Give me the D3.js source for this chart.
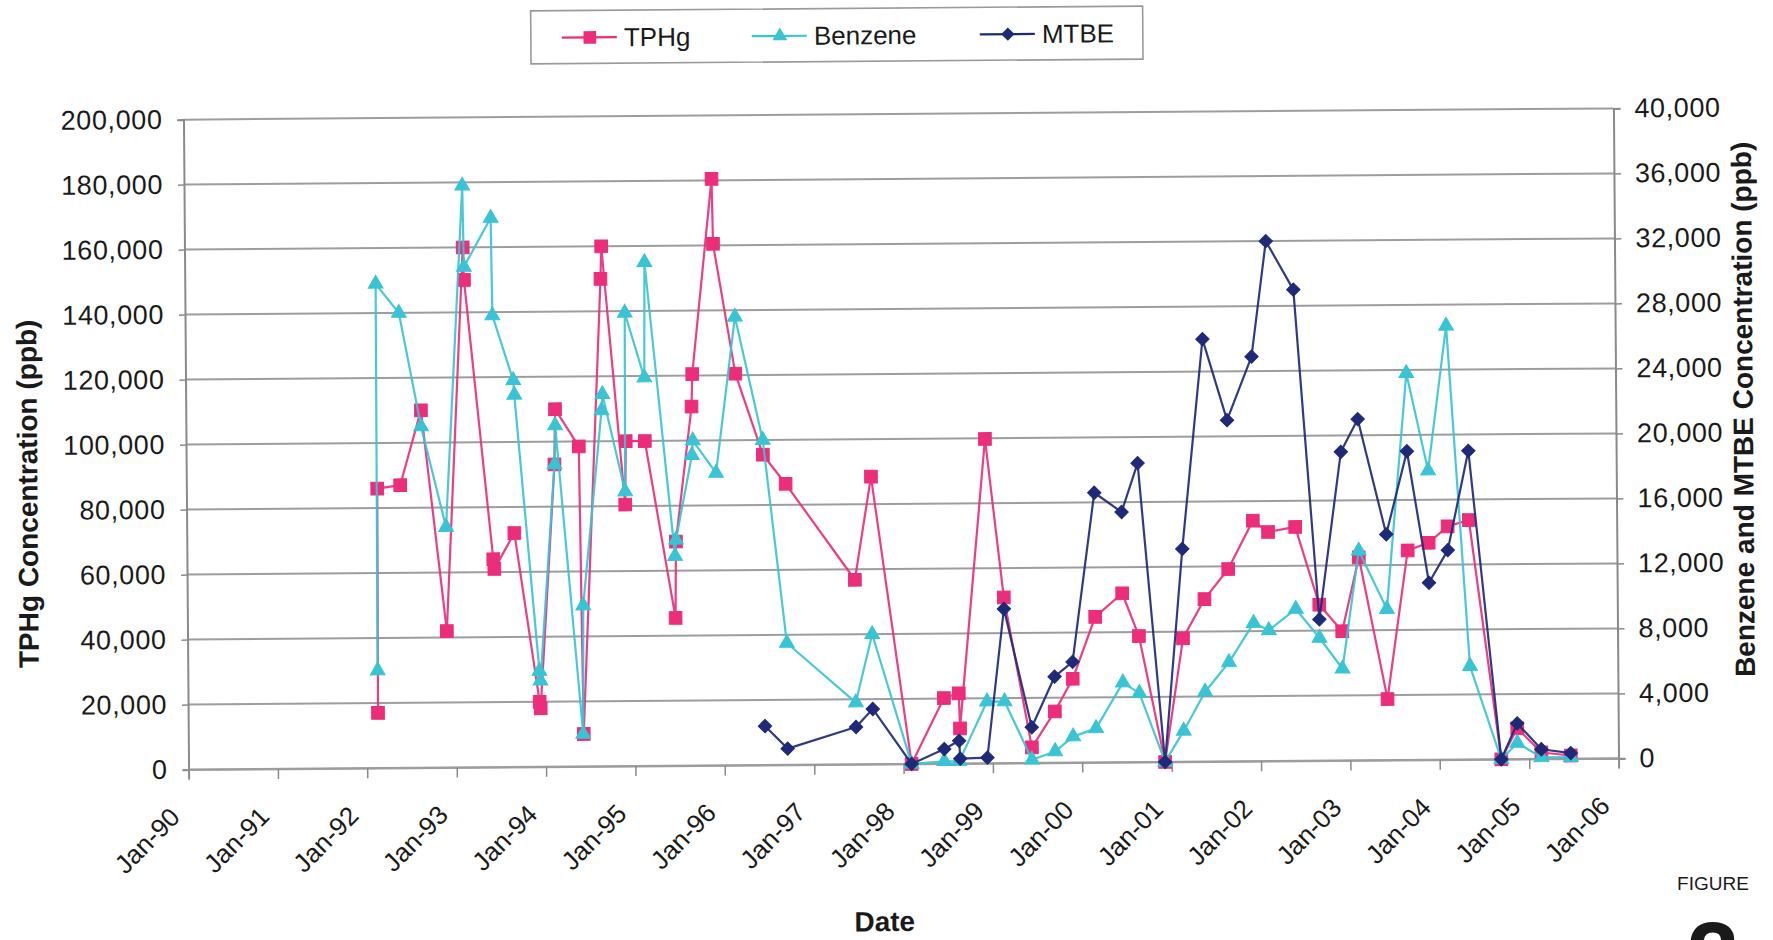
<!DOCTYPE html>
<html><head><meta charset="utf-8">
<script src="https://cdn.jsdelivr.net/npm/d3@7"></script>
<style>
html,body{margin:0;padding:0;background:#fff;}
svg{display:block;}
text{font-family:"Liberation Sans",Arial,Helvetica,sans-serif;fill:#1a1a1a;}
</style></head><body>
<svg id="chart" width="1773" height="940"></svg>
<script>
// ---------- data ----------
const xTickLabels = ["Jan-90","Jan-91","Jan-92","Jan-93","Jan-94","Jan-95","Jan-96","Jan-97","Jan-98","Jan-99","Jan-00","Jan-01","Jan-02","Jan-03","Jan-04","Jan-05","Jan-06"];
const leftTickValues = [0,20000,40000,60000,80000,100000,120000,140000,160000,180000,200000];
const rightTickValues = [0,4000,8000,12000,16000,20000,24000,28000,32000,36000,40000];
const seriesNames = ["TPHg","Benzene","MTBE"];

const tphgDates = ["1992-02-16","1992-02-20","1992-05-24","1992-08-19","1992-11-26","1993-02-11","1993-02-15","1993-06-06","1993-06-10","1993-09-01","1993-12-08","1993-12-12","1994-02-14","1994-02-18","1994-05-25","1994-06-05","1994-08-27","1994-08-31","1994-11-29","1994-12-03","1995-02-19","1995-06-19","1995-06-23","1995-08-30","1995-09-03","1995-11-27","1995-12-01","1996-02-26","1996-06-15","1996-09-15","1997-06-22","1997-08-30","1998-02-03","1998-06-17","1998-08-17","1998-08-21","1998-12-10","1999-02-20","1999-06-10","1999-09-13","1999-11-26","2000-02-28","2000-06-18","2000-08-24","2000-12-05","2001-02-20","2001-05-20","2001-08-26","2001-12-06","2002-02-06","2002-05-28","2002-09-01","2002-12-03","2003-02-11","2003-06-04","2003-08-30","2003-11-24","2004-02-10","2004-05-07","2004-09-09","2004-11-14","2005-02-20","2005-06-20"];
const tphgValues = [17000,86000,87000,110000,42000,160000,150000,64000,61000,72000,20000,18000,93000,110000,98500,10000,150000,160000,80500,100000,100000,45500,69000,110500,120500,180500,160500,120500,95500,86500,56800,88500,0,20200,21600,10800,99800,51000,4800,15800,25800,44800,52000,38800,0,38000,50000,59200,74000,70500,72000,48000,39800,62500,18800,64500,66800,71800,73700,0,9500,2000,1000];

const benzeneDates = ["1992-02-16","1992-02-20","1992-05-24","1992-08-19","1992-11-26","1993-02-11","1993-02-15","1993-06-06","1993-06-10","1993-09-01","1993-09-05","1993-12-08","1993-12-12","1994-02-14","1994-02-18","1994-06-03","1994-06-07","1994-08-27","1994-08-31","1994-11-29","1994-12-03","1995-02-19","1995-02-23","1995-06-19","1995-06-23","1995-08-30","1995-09-03","1995-12-06","1996-02-26","1996-06-15","1996-09-15","1997-06-22","1997-08-30","1998-02-03","1998-06-17","1998-08-17","1998-12-10","1999-02-20","1999-06-10","1999-09-13","1999-11-26","2000-02-28","2000-06-18","2000-08-24","2000-12-05","2001-02-20","2001-05-20","2001-08-26","2001-12-06","2002-02-06","2002-05-28","2002-09-01","2002-12-03","2003-02-11","2003-06-04","2003-08-30","2003-11-24","2004-02-10","2004-05-07","2004-09-09","2004-11-14","2005-02-20","2005-06-20"];
const benzeneValues = [6000,29800,28000,21000,14800,35800,30800,33800,27800,23800,22900,5900,5300,18600,21000,2000,9900,21900,22900,16900,27900,23900,31000,12900,13900,19100,20000,18000,27600,20000,7500,3800,8000,0,150,150,3800,3800,200,700,1600,2100,4900,4250,0,1900,4300,6100,8500,8050,9350,7550,5650,12900,9300,23800,17800,26700,5750,0,1000,100,100];

const mtbeDates = ["1996-06-15","1996-09-15","1997-06-22","1997-08-30","1998-02-03","1998-06-17","1998-08-17","1998-08-21","1998-12-10","1999-02-20","1999-06-10","1999-09-13","1999-11-26","2000-02-28","2000-06-18","2000-08-24","2000-12-05","2001-02-20","2001-05-20","2001-08-26","2001-12-06","2002-02-06","2002-05-28","2002-09-01","2002-12-03","2003-02-11","2003-06-04","2003-08-30","2003-11-24","2004-02-10","2004-05-07","2004-09-09","2004-11-14","2005-02-20","2005-06-20"];
const mtbeValues = [2400,1000,2300,3400,0,900,1400,300,350,9500,2200,5300,6200,16600,15400,18400,0,13100,26000,21000,24900,32000,29000,8700,19000,21000,13900,19000,10900,12900,19000,0,2200,600,350];

// ---------- layout ----------
const W = 1773, H = 940;
const plot = {left:186, right:1616, top:114, bottom:764};
const colors = {tphg:"#EC2D7A", benzene:"#38C4D4", mtbe:"#1E2A78", grid:"#9d9d9d", axis:"#8a8a8a"};
const parse = d3.timeParse("%Y-%m-%d");

const svg = d3.select("#chart");
svg.append("rect").attr("width",W).attr("height",H).attr("fill","#fff");

const g = svg.append("g").attr("transform","rotate(-0.45,901,439)");

const x = d3.scaleTime().domain([new Date(1990,0,1), new Date(2006,0,1)]).range([plot.left, plot.right]);
const yL = d3.scaleLinear().domain([0,200000]).range([plot.bottom, plot.top]);
const yR = d3.scaleLinear().domain([0,40000]).range([plot.bottom, plot.top]);
const tickDates = xTickLabels.map((l,i)=>new Date(1990+i,0,1));

// gridlines
g.append("g").selectAll("line").data(leftTickValues).join("line")
  .attr("x1",plot.left).attr("x2",plot.right)
  .attr("y1",d=>yL(d)).attr("y2",d=>yL(d))
  .attr("stroke",colors.grid).attr("stroke-width",2);

// axes
const fmt = d3.format(",");
const axL = g.append("g").attr("transform",`translate(${plot.left},0)`)
  .call(d3.axisLeft(yL).tickValues(leftTickValues).tickFormat(fmt).tickSize(6).tickPadding(15));
const axR = g.append("g").attr("transform",`translate(${plot.right},0)`)
  .call(d3.axisRight(yR).tickValues(rightTickValues).tickFormat(fmt).tickSize(7).tickPadding(14));
const axB = g.append("g").attr("transform",`translate(0,${plot.bottom})`)
  .call(d3.axisBottom(x).tickValues(tickDates).tickFormat((d,i)=>xTickLabels[i]).tickSize(10));

[axL,axR,axB].forEach(a=>{
  a.select(".domain").attr("stroke",colors.axis).attr("stroke-width",2);
  a.selectAll(".tick line").attr("stroke",colors.axis).attr("stroke-width",1.5);
  a.selectAll("text").attr("font-size",27).attr("fill","#1a1a1a")
    .style("font-family",'"Liberation Sans",Arial,sans-serif').style("letter-spacing","0.6px");
});
axB.select(".domain").attr("stroke",colors.grid);
axB.selectAll("text").attr("font-size",26).attr("y",0).attr("x",0).attr("dy","0")
  .attr("text-anchor","end").attr("transform","translate(-8,49) rotate(-45)").style("letter-spacing","0px");

// series
function makeSeries(dates, values, yScale){
  return dates.map((d,i)=>({date:parse(d), value:values[i], y:yScale}));
}
const tphg = makeSeries(tphgDates,tphgValues,yL);
const benz = makeSeries(benzeneDates,benzeneValues,yR);
const mtbe = makeSeries(mtbeDates,mtbeValues,yR);

const lineGen = d3.line().x(d=>x(d.date)).y(d=>d.y(d.value));
const sqr = d3.symbol().type(d3.symbolSquare).size(160)();
const tri = d3.symbol().type(d3.symbolTriangle).size(95)();
const dia = d3.symbol().type(d3.symbolSquare).size(90)();

function drawSeries(data, color, shape, rot){
  const sg = g.append("g");
  sg.append("path").datum(data).attr("d",lineGen).attr("fill","none")
    .attr("stroke",color).attr("stroke-width",2.2).attr("stroke-linejoin","round").attr("opacity",0.92);
  sg.selectAll("path.m").data(data).join("path").attr("class","m")
    .attr("d",shape)
    .attr("transform",d=>`translate(${x(d.date)},${d.y(d.value)})${rot?" rotate(45)":""}`)
    .attr("fill",color).attr("stroke",color).attr("stroke-width",1);
}
drawSeries(tphg, colors.tphg, sqr, false);
drawSeries(benz, colors.benzene, tri, false);
drawSeries(mtbe, colors.mtbe, dia, true);

// axis titles
g.append("text").attr("transform","translate(37,487) rotate(-90)")
  .attr("text-anchor","middle").attr("font-size",28).attr("font-weight","bold")
  .text("TPHg Concentration (ppb)");
g.append("text").attr("transform","translate(1753,416) rotate(-90)")
  .attr("text-anchor","middle").attr("font-size",28).attr("font-weight","bold")
  .text("Benzene and MTBE Concentration (ppb)");
g.append("text").attr("x",881).attr("y",931).attr("text-anchor","middle")
  .attr("font-size",28).attr("font-weight","bold").text("Date");

// legend
const lg = g.append("g");
lg.append("rect").attr("x",534).attr("y",8).attr("width",612).attr("height",53)
  .attr("fill","#fff").attr("stroke","#9a9a9a").attr("stroke-width",1.6);
const legendItems = [
  {name:seriesNames[0], color:colors.tphg, shape:sqr, rot:false, x0:565},
  {name:seriesNames[1], color:colors.benzene, shape:tri, rot:false, x0:755},
  {name:seriesNames[2], color:colors.mtbe, shape:dia, rot:true, x0:983}
];
legendItems.forEach(it=>{
  lg.append("line").attr("x1",it.x0).attr("x2",it.x0+55).attr("y1",35).attr("y2",35)
    .attr("stroke",it.color).attr("stroke-width",2.2);
  lg.append("path").attr("d",it.shape)
    .attr("transform",`translate(${it.x0+28},35)${it.rot?" rotate(45)":""}`)
    .attr("fill",it.color);
  lg.append("text").attr("x",it.x0+62).attr("y",44).attr("font-size",26).text(it.name);
});

// figure tag (the large figure number is cut by the page edge, as in the scan)
svg.append("text").attr("x",1713).attr("y",890).attr("text-anchor","middle")
  .attr("font-size",19).text("FIGURE");
svg.append("text").attr("x",1713).attr("y",988).attr("text-anchor","middle")
  .attr("font-size",94).attr("font-weight","bold").text("2");
</script>
</body></html>
